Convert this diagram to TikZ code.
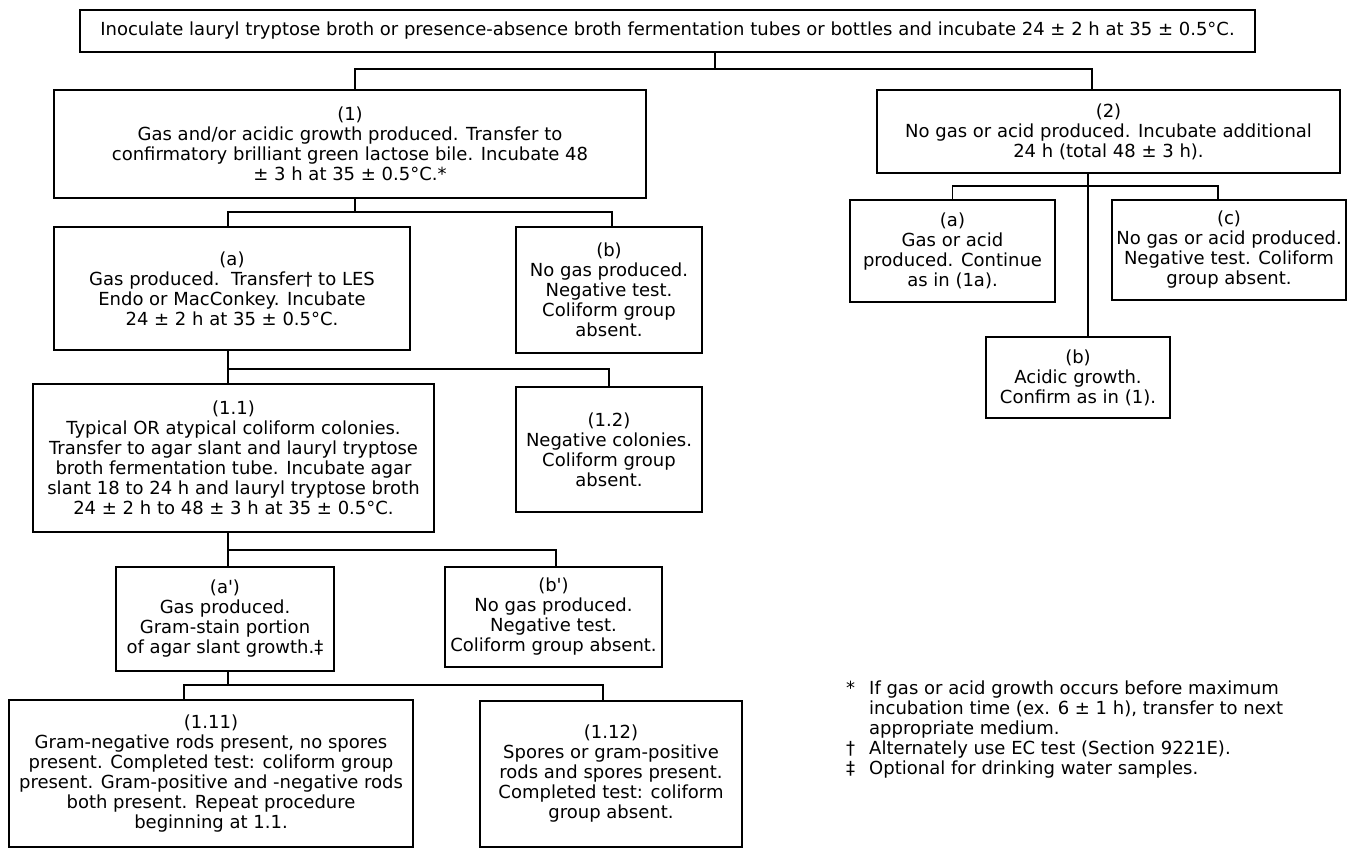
\documentclass[tikz,border=0pt]{standalone}
\usepackage{fontspec}
\setmainfont{DejaVu Sans}
\begin{document}
\begin{tikzpicture}[x=1pt,y=-1pt,
  box/.style={draw, line width=1.5pt, align=center, inner sep=1pt, font=\fontsize{18}{20}\selectfont},
  link/.style={line width=1.4pt},
  note/.style={inner sep=0pt, font=\fontsize{18}{20}\selectfont}
]
\useasboundingbox (0,0) rectangle (1350,848);

\node[box, minimum width=1175, minimum height=42] (top) at (667.5,31)
  {Inoculate lauryl tryptose broth or presence-absence broth fermentation tubes or bottles and incubate 24 ± 2 h at 35 ± 0.5°C.};

\node[box, minimum width=592, minimum height=108] (b1) at (350,144)
  {(1)\\Gas and/or acidic growth produced. Transfer to\\confirmatory brilliant green lactose bile. Incubate 48\\± 3 h at 35 ± 0.5°C.*};
\node[box, minimum width=463, minimum height=83] (b2) at (1108.5,131.5)
  {(2)\\No gas or acid produced. Incubate additional\\24 h (total 48 ± 3 h).};

\node[box, minimum width=356, minimum height=123] (a) at (232,288.5)
  {(a)\\Gas produced.\ \ Transfer† to LES\\Endo or MacConkey. Incubate\\24 ± 2 h at 35 ± 0.5°C.};
\node[box, minimum width=186, minimum height=126] (b) at (609,290)
  {(b)\\No gas produced.\\Negative test.\\Coliform group\\absent.};

\node[box, minimum width=401, minimum height=148] (c11) at (233.5,458)
  {(1.1)\\Typical OR atypical coliform colonies.\\Transfer to agar slant and lauryl tryptose\\broth fermentation tube. Incubate agar\\slant 18 to 24 h and lauryl tryptose broth\\24 ± 2 h to 48 ± 3 h at 35 ± 0.5°C.};
\node[box, minimum width=186, minimum height=125] (c12) at (609,449.5)
  {(1.2)\\Negative colonies.\\Coliform group\\absent.};

\node[box, minimum width=218, minimum height=104] (ap) at (225,619)
  {(a\textquotesingle)\\Gas produced.\\Gram-stain portion\\of agar slant growth.‡};
\node[box, minimum width=217, minimum height=100] (bp) at (553.5,617)
  {(b\textquotesingle)\\No gas produced.\\Negative test.\\Coliform group absent.};

\node[box, minimum width=404, minimum height=147] (d11) at (211,773.5)
  {(1.11)\\Gram-negative rods present, no spores\\present. Completed test: coliform group\\present. Gram-positive and -negative rods\\both present. Repeat procedure\\beginning at 1.1.};
\node[box, minimum width=262, minimum height=146] (d12) at (611,774)
  {(1.12)\\Spores or gram-positive\\rods and spores present.\\Completed test: coliform\\group absent.};

\node[box, minimum width=205, minimum height=102] (ra) at (952.5,251)
  {(a)\\Gas or acid\\produced. Continue\\as in (1a).};
\node[box, minimum width=234, minimum height=100] (rc) at (1229,250)
  {(c)\\No gas or acid produced.\\Negative test. Coliform\\group absent.};
\node[box, minimum width=184, minimum height=81] (rb) at (1078,377.5)
  {(b)\\Acidic growth.\\Confirm as in (1).};

% connectors
\coordinate (jt) at (715,69);
\draw[link] (top.south -| jt) -- (jt);
\draw[link] ([xshift=5]b1.north) |- (jt) -| ([xshift=-16.5]b2.north);

\coordinate (j1) at (355,212);
\draw[link] (b1.south -| j1) -- (j1);
\draw[link] ([xshift=-4]a.north) |- (j1) -| ([xshift=3]b.north);

\coordinate (j2) at (228,369);
\draw[link] (a.south -| j2) -- (j2);
\draw[link] ([xshift=-5.5]c11.north) |- (j2) -| (c12.north);

\coordinate (j3) at (228,550);
\draw[link] (c11.south -| j3) -- (j3);
\draw[link] ([xshift=3]ap.north) |- (j3) -| ([xshift=2.5]bp.north);

\coordinate (j4) at (228,685);
\draw[link] (ap.south -| j4) -- (j4);
\draw[link] ([xshift=-27]d11.north) |- (j4) -| ([xshift=-8]d12.north);

\coordinate (j5) at (1088,186);
\draw[link] (b2.south -| j5) -- (rb.north -| j5);
\draw[link] (ra.north) |- (j5) -| ([xshift=-11]rc.north);

% footnotes
\node[note, anchor=north west] (notes) at (846,680)
  {\begin{tabular}{@{}l@{\hspace{14pt}}l@{}}
   * & If gas or acid growth occurs before maximum\\
     & incubation time (ex. 6 ± 1 h), transfer to next\\
     & appropriate medium.\\
   † & Alternately use EC test (Section 9221E).\\
   ‡ & Optional for drinking water samples.
   \end{tabular}};
\end{tikzpicture}
\end{document}
